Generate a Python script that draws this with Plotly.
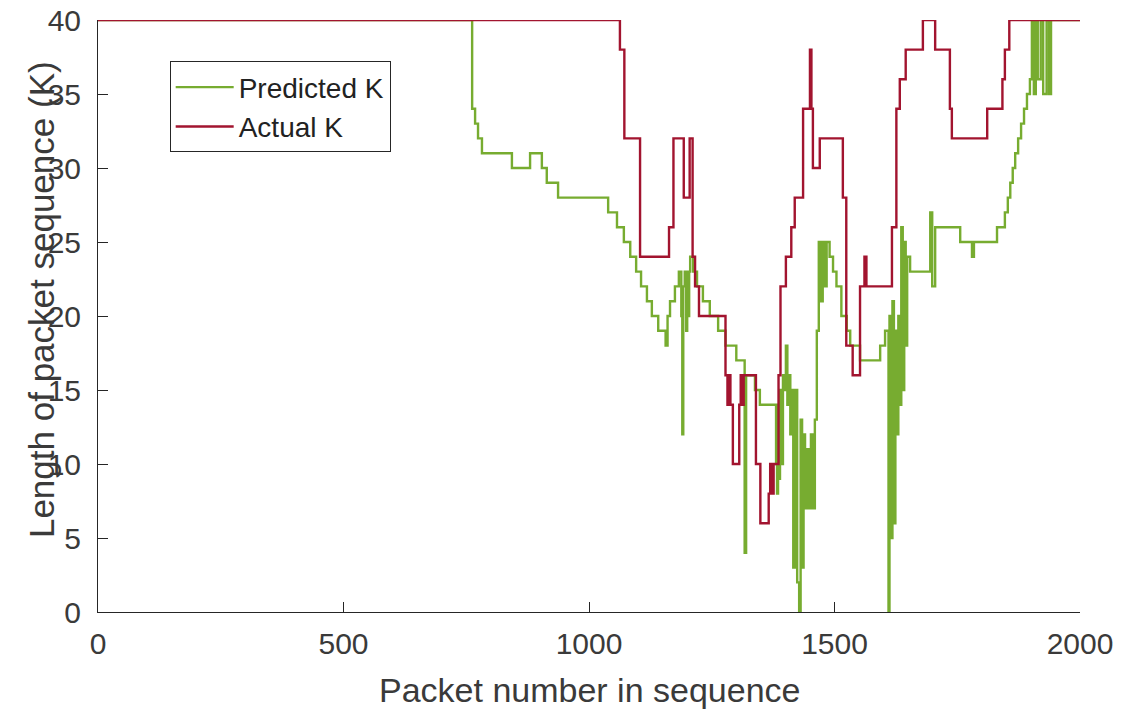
import plotly.graph_objects as go

# Predicted K (green) step breakpoints: packet number -> K
pred_x = [0, 762, 768, 774, 782, 843, 880, 904, 914, 937, 1039, 1057, 1071, 1084, 1096, 1106,
          1118, 1128, 1141, 1156, 1160, 1165, 1175, 1183, 1188, 1190, 1192, 1195, 1198, 1200,
          1202, 1204, 1206, 1212, 1220, 1232, 1246, 1263, 1278, 1300, 1317, 1320, 1338, 1348,
          1381, 1383, 1385, 1387, 1389, 1392, 1395, 1398, 1401, 1404, 1407, 1410, 1413, 1416,
          1420, 1424, 1428, 1431, 1434, 1437, 1440, 1444, 1448, 1452, 1456, 1460, 1464, 1468,
          1472, 1476, 1480, 1484, 1490, 1497, 1504, 1514, 1525, 1532, 1552, 1593, 1603, 1610,
          1612, 1615, 1618, 1621, 1624, 1627, 1630, 1633, 1636, 1639, 1642, 1645, 1648, 1654,
          1695, 1699, 1705, 1756, 1780, 1784, 1831, 1847, 1853, 1858, 1863, 1868, 1874, 1880,
          1886, 1892, 1898, 1902, 1906, 1910, 1914, 1920, 1925, 1932, 1937, 1941, 2000]
pred_k = [40, 34, 33, 32, 31, 30, 31, 30, 29, 28, 27, 26, 25, 24, 23, 22,
          21, 20, 19, 18, 20, 21, 22, 23, 20, 12, 22, 23, 19, 23,
          20, 23, 24, 23, 22, 21, 20, 19, 18, 17, 4, 16, 15, 14,
          10, 8, 14, 9, 15, 10, 16, 15, 18, 14, 16, 12, 15, 3,
          15, 2, 0, 13, 3, 12, 7, 11, 7, 12, 7, 13, 19, 25,
          21, 25, 22, 25, 24, 23, 22, 20, 19, 18, 17, 18, 19, 0,
          20, 5, 21, 6, 19, 12, 20, 14, 26, 15, 25, 18, 24, 23,
          27, 22, 26, 25, 24, 25, 26, 27, 28, 29, 30, 31, 32, 33,
          34, 35, 36, 40, 35, 40, 36, 40, 35, 40, 35, 40, 40]

# Actual K (red) step breakpoints
act_x = [0, 1063, 1072, 1104, 1163, 1172, 1193, 1205, 1211, 1216, 1224, 1278, 1282, 1285,
         1288, 1293, 1306, 1309, 1312, 1315, 1340, 1349, 1366, 1369, 1372, 1376, 1386, 1390,
         1401, 1412, 1419, 1436, 1450, 1453, 1456, 1470, 1517, 1524, 1537, 1552, 1561, 1565,
         1617, 1626, 1633, 1645, 1680, 1705, 1735, 1739, 1811, 1842, 1847, 1856, 2000]
act_k = [40, 38, 32, 24, 26, 32, 28, 32, 24, 22, 20, 16, 14, 16,
         14, 10, 14, 16, 14, 16, 10, 6, 8, 10, 8, 10, 16, 22,
         24, 26, 28, 34, 38, 34, 30, 32, 28, 18, 16, 22, 24, 22,
         26, 34, 36, 38, 40, 38, 34, 32, 34, 36, 38, 40, 40]

x_ticks = [0, 500, 1000, 1500, 2000]
y_ticks = [0, 5, 10, 15, 20, 25, 30, 35, 40]

FONT = "Liberation Sans, Arial, Helvetica, sans-serif"
AX = "#262626"
TXT = "#3a3a3a"

fig = go.Figure()
fig.add_trace(go.Scatter(x=pred_x, y=pred_k, mode="lines", name="Predicted K",
                         line=dict(color="#77AC30", width=2.4, shape="hv")))
fig.add_trace(go.Scatter(x=act_x, y=act_k, mode="lines", name="Actual K",
                         line=dict(color="#A2142F", width=2.4, shape="hv")))

fig.update_layout(
    width=1122, height=711,
    margin=dict(l=98, r=42, t=20, b=99),
    paper_bgcolor="white", plot_bgcolor="white",
    font=dict(family=FONT, color=TXT),
    showlegend=True,
    legend=dict(x=0.073, y=0.93, xanchor="left", yanchor="top",
                bgcolor="white", bordercolor=AX, borderwidth=1,
                itemwidth=58,
                font=dict(size=28, family=FONT, color="#222222"),
                tracegroupgap=0),
    xaxis=dict(range=[0, 2000], tickvals=x_ticks, ticktext=[str(v) for v in x_ticks],
               showgrid=False, zeroline=False, showline=True, linecolor=AX, linewidth=1,
               ticks="inside", ticklen=10, tickcolor=AX, ticklabelstandoff=5,
               tickfont=dict(size=30, family=FONT, color=TXT),
               automargin=False),
    yaxis=dict(range=[0, 40], tickvals=y_ticks, ticktext=[str(v) for v in y_ticks],
               showgrid=False, zeroline=False, showline=True, linecolor=AX, linewidth=1,
               ticks="inside", ticklen=10, tickcolor=AX, ticklabelstandoff=10,
               tickfont=dict(size=30, family=FONT, color=TXT),
               automargin=False),
    annotations=[
        dict(text="Packet number in sequence", xref="paper", yref="paper",
             x=0.5, y=-0.132, xanchor="center", yanchor="middle", showarrow=False,
             font=dict(size=34, family=FONT, color=TXT)),
        dict(text="Length of packet sequence (K)", xref="paper", yref="paper",
             x=-0.058, y=0.527, xanchor="center", yanchor="middle", showarrow=False,
             textangle=-90, font=dict(size=35, family=FONT, color=TXT)),
    ],
)

fig.write_html("out.html")
